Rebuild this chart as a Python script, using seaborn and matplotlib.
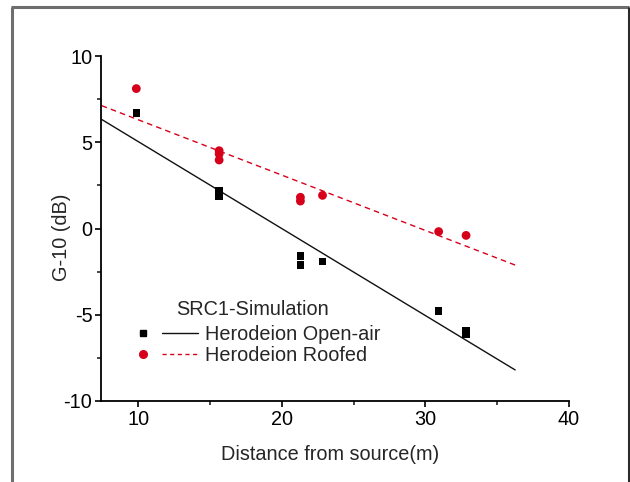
import numpy as np
import pandas as pd
import seaborn as sns
import matplotlib
matplotlib.use("Agg")
import matplotlib.pyplot as plt
from matplotlib.lines import Line2D
from matplotlib.legend_handler import HandlerTuple
from matplotlib.ticker import MultipleLocator

# ---- data ----
open_x = [9.86, 15.63, 15.63, 21.29, 21.29, 22.83, 30.92, 32.83, 32.83]
open_y = [6.71, 2.19, 1.88, -1.59, -2.12, -1.92, -4.80, -5.95, -6.10]
roof_x = [9.86, 15.63, 15.63, 15.63, 21.29, 21.29, 22.83, 30.92, 32.83]
roof_y = [8.11, 4.51, 4.32, 3.97, 1.81, 1.59, 1.92, -0.18, -0.40]
# linear-fit lines
fit_x = [7.45, 36.25]
open_fit_y = [6.32, -8.20]
roof_fit_y = [7.12, -2.12]
series_names = ["Herodeion Open-air", "Herodeion Roofed"]
legend_title = "SRC1-Simulation"
x_ticks = [10, 20, 30, 40]
y_ticks = [-10, -5, 0, 5, 10]

df_open = pd.DataFrame({"x": open_x, "y": open_y})
df_roof = pd.DataFrame({"x": roof_x, "y": roof_y})
df_open_fit = pd.DataFrame({"x": fit_x, "y": open_fit_y})
df_roof_fit = pd.DataFrame({"x": fit_x, "y": roof_fit_y})

sns.set_style("ticks")
plt.rcParams["font.family"] = ["Liberation Sans", "DejaVu Sans"]
plt.rcParams["axes.unicode_minus"] = False

fig = plt.figure(figsize=(6.3, 4.82), dpi=100)
ax = fig.add_axes([101 / 630, 1 - 401 / 482, (569 - 101) / 630, (401 - 56) / 482])

black = "#000000"
red = "#d7001b"
FS = 14.3

sns.lineplot(data=df_open_fit, x="x", y="y", ax=ax, color="#111111", lw=1.0)
sns.lineplot(data=df_roof_fit, x="x", y="y", ax=ax, color=red, lw=1.0,
             linestyle=(0, (4, 3)))

sns.scatterplot(data=df_open, x="x", y="y", ax=ax, marker="s", s=30,
                color=black, edgecolor="none", zorder=5)
sns.scatterplot(data=df_roof, x="x", y="y", ax=ax, marker="o", s=40,
                color=red, edgecolor="none", zorder=5)

ax.set_xlim(7.4, 40)
ax.set_ylim(-10, 10)
ax.set_xticks(x_ticks)
ax.set_yticks(y_ticks)
ax.xaxis.set_minor_locator(MultipleLocator(5))
ax.yaxis.set_minor_locator(MultipleLocator(2.5))
ax.tick_params(which="major", direction="out", length=4.3, width=1.2, labelsize=FS, colors="black", pad=2)
ax.tick_params(which="minor", direction="out", length=3.0, width=1.2)
for s in ["top", "right"]:
    ax.spines[s].set_visible(False)
for s in ["left", "bottom"]:
    ax.spines[s].set_linewidth(1.3)
    ax.spines[s].set_color("black")

ax.set_xlabel("Distance from source(m)", fontsize=FS)
ax.set_ylabel("G-10 (dB)", fontsize=FS)
ax.xaxis.set_label_coords(0.489, -0.128)
ax.yaxis.set_label_coords(-0.064, 0.475)

# legend: marker then line side-by-side
h1 = (Line2D([], [], marker="s", ls="none", color=black, markersize=4.5),
      Line2D([], [], color="#111111", lw=1.0))
h2 = (Line2D([], [], marker="o", ls="none", color=red, markersize=5.5),
      Line2D([], [], color=red, lw=1.0, ls=(0, (3, 2.5))))
leg = ax.legend([h1, h2], series_names, title=legend_title,
                handler_map={tuple: HandlerTuple(ndivide=None, pad=0.05)},
                handlelength=3.67, handletextpad=0.35, labelspacing=0.1,
                frameon=False, fontsize=FS, title_fontsize=FS,
                loc="upper left", bbox_to_anchor=(0.051, 0.294),
                borderaxespad=0, borderpad=0)
leg._legend_box.sep = 0.1 * FS + 3.0

# figure border (left, top, right)
W, H = 630, 482
kw = dict(transform=fig.transFigure, lw=2.2, solid_capstyle="butt")
fig.add_artist(Line2D([11.5 / W, 11.5 / W], [0, 1 - 6.5 / H], color="#6e6e6e", **kw))
fig.add_artist(Line2D([10.5 / W, 629 / W], [1 - 6.5 / H, 1 - 6.5 / H], color="#6e6e6e", **kw))
fig.add_artist(Line2D([628.8 / W, 628.8 / W], [0, 1 - 6.5 / H], color="#2a2a2a", **kw))

fig.savefig("out.png", dpi=100)
